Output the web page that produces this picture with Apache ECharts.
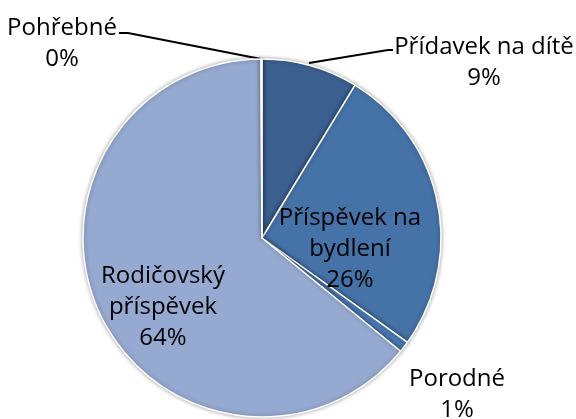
<!DOCTYPE html>
<html><head><meta charset="utf-8">
<script src="https://cdn.jsdelivr.net/npm/echarts@6/dist/echarts.min.js"></script>
<style>html,body{margin:0;padding:0;background:#fff}#c{width:576px;height:419px}</style>
</head><body><div id="c"></div>
<script>
const categories = ['Přídavek na dítě', 'Příspěvek na bydlení', 'Porodné', 'Rodičovský příspěvek', 'Pohřebné'];
const labelTexts = ['Přídavek na dítě', 'Příspěvek na\nbydlení', 'Porodné', 'Rodičovský\npříspěvek', 'Pohřebné'];
const values = [8.7, 26.2, 1.0, 64.0, 0.1];
const colors = ['#3B5F8F', '#4572A7', '#4A78B3', '#95A9D1', '#7A96C6'];

const chart = echarts.init(document.getElementById('c'), null, {renderer: 'canvas'});
const labelPos = [
  {x: 484, y: 63, line: [[309, 63], [388, 50], [393, 50]]},
  {x: 350, y: 249},
  {x: 457, y: 395},
  {x: 163, y: 307},
  {x: 62, y: 44, line: [[261, 59], [128, 33], [119, 33]]}
];
chart.setOption({
  animation: false,
  series: [{
    type: 'pie',
    center: [262, 238],
    radius: 179,
    startAngle: 90,
    clockwise: true,
    data: categories.map((c, i) => ({name: c, value: values[i], itemStyle: {color: colors[i]}})),
    itemStyle: {borderColor: '#fff', borderWidth: 1.5, shadowBlur: 4, shadowColor: 'rgba(0,0,0,0.35)'},
    label: {
      show: true,
      position: 'outside',
      fontFamily: 'Open Sans',
      fontSize: 24,
      lineHeight: 31,
      color: '#000',
      align: 'center',
      overflow: 'none',
      width: 300,
      formatter: p => labelTexts[p.dataIndex] + '\n' + Math.round(p.percent) + '%'
    },
    labelLine: {show: true, lineStyle: {color: '#000', width: 2}, length: 10, length2: 10},
    labelLayout: p => {
      const L = labelPos[p.dataIndex];
      const r = {x: L.x, y: L.y, align: 'center', verticalAlign: 'middle'};
      if (L.line) r.labelLinePoints = L.line; else r.labelLinePoints = [[L.x, L.y], [L.x, L.y], [L.x, L.y]];
      return r;
    }
  }]
});
</script></body></html>
